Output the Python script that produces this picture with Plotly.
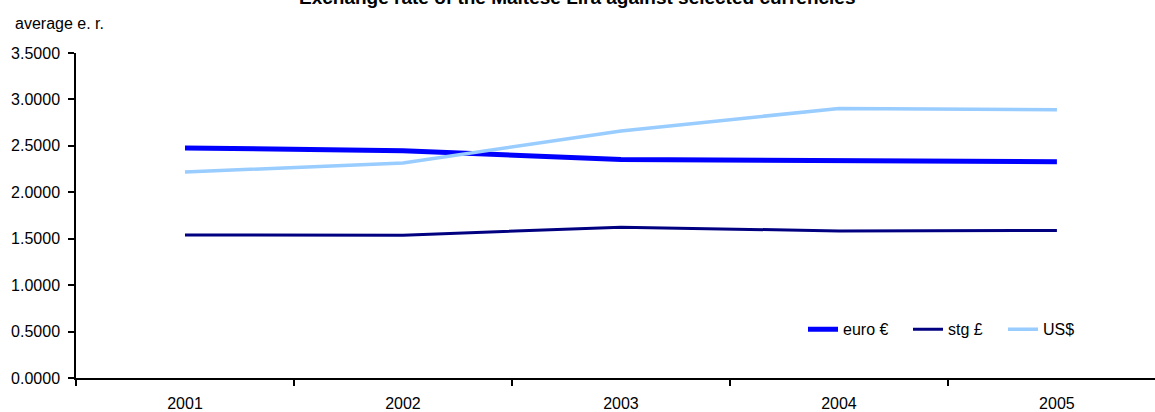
import plotly.graph_objects as go

years = ["2001", "2002", "2003", "2004", "2005"]
euro = [2.4776, 2.4484, 2.3519, 2.3377, 2.3293]
sterling = [1.5407, 1.5380, 1.6240, 1.5840, 1.5880]
usd = [2.2179, 2.3150, 2.6600, 2.9035, 2.8890]

y_ticks = [0.0, 0.5, 1.0, 1.5, 2.0, 2.5, 3.0, 3.5]

FONT = "Liberation Sans, Arial, sans-serif"

# plot-area geometry in pixels, used to place paper-coordinate items
L, R, T, B, W, H = 76, 0, 53, 32, 1155, 412
PW, PH = W - L - R, H - T - B


def px_x(x):
    return (x - L) / PW


def px_y(y):
    return (H - B - y) / PH


fig = go.Figure()
fig.add_trace(go.Scatter(x=years, y=euro, name="euro €", mode="lines",
                         line=dict(color="#0000FF", width=5), legend="legend"))
fig.add_trace(go.Scatter(x=years, y=sterling, name="stg £", mode="lines",
                         line=dict(color="#000080", width=3), legend="legend2"))
fig.add_trace(go.Scatter(x=years, y=usd, name="US$", mode="lines",
                         line=dict(color="#99CCFF", width=3.5), legend="legend3"))

legend_common = dict(orientation="h", xanchor="left", yanchor="middle",
                     font=dict(size=16, family=FONT), bgcolor="rgba(0,0,0,0)",
                     y=px_y(331))

fig.update_layout(
    width=W, height=H,
    margin=dict(l=L, r=R, t=T, b=B),
    paper_bgcolor="white", plot_bgcolor="white",
    font=dict(family=FONT, size=16, color="black"),
    showlegend=True,
    legend=dict(x=px_x(803), **legend_common),
    legend2=dict(x=px_x(908), **legend_common),
    legend3=dict(x=px_x(1003), **legend_common),
    xaxis=dict(
        type="category", range=[-0.5, 4.45], tickson="boundaries",
        showline=True, linecolor="black", linewidth=1.5,
        ticks="outside", ticklen=6, tickcolor="black", tickwidth=1.5,
        showgrid=False, zeroline=False, ticklabelstandoff=10,
    ),
    yaxis=dict(
        range=[0, 3.5], tickvals=y_ticks, tickformat=".4f",
        showline=True, linecolor="black", linewidth=1.5,
        ticks="outside", ticklen=6, tickcolor="black", tickwidth=1.5,
        showgrid=False, zeroline=False, ticklabelstandoff=5,
    ),
    annotations=[
        dict(text="<b>Exchange rate of the Maltese Lira against selected currencies</b>",
             xref="paper", yref="paper", x=px_x(577), y=px_y(-3),
             xanchor="center", yanchor="middle", showarrow=False,
             font=dict(size=19, family=FONT)),
        dict(text="average e. r.", xref="paper", yref="paper",
             x=px_x(13), y=px_y(23),
             xanchor="left", yanchor="middle", showarrow=False,
             font=dict(size=16, family=FONT)),
    ],
)

fig.write_html("out.html")
